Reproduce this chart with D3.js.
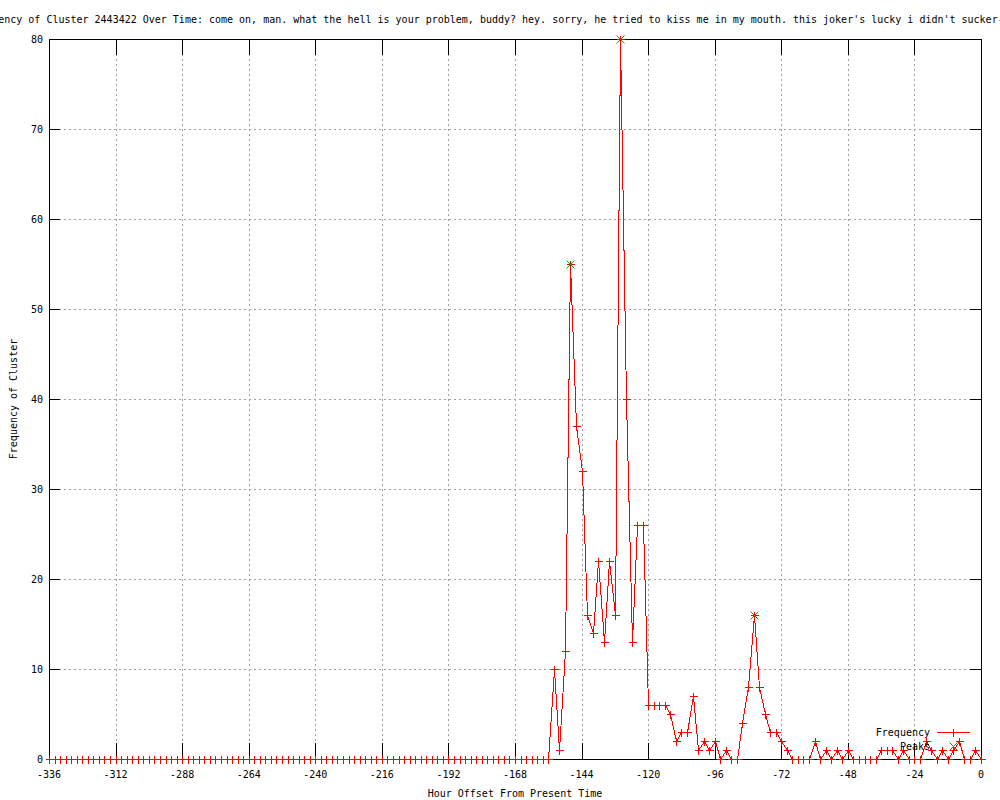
<!DOCTYPE html>
<html>
<head>
<meta charset="utf-8">
<script src="https://cdn.jsdelivr.net/npm/d3@7"></script>
<style>
  body { margin: 0; background: #fff; }
  text { font-family: "DejaVu Sans Mono", monospace; font-size: 10px; fill: #000; }
</style>
</head>
<body>
<div id="chart"></div>
<script>
const titleText = "Frequency of Cluster 2443422 Over Time: come on, man. what the hell is your problem, buddy? hey. sorry, he tried to kiss me in my mouth. this joker's lucky i didn't sucker-punch him.";

// hour offsets, one point every 2 hours
const hours = d3.range(-336, 1, 2);
const counts = [
  0,0,0,0,0,0,0,0,0,0, 0,0,0,0,0,0,0,0,0,0,
  0,0,0,0,0,0,0,0,0,0, 0,0,0,0,0,0,0,0,0,0,
  0,0,0,0,0,0,0,0,0,0, 0,0,0,0,0,0,0,0,0,0,
  0,0,0,0,0,0,0,0,0,0, 0,0,0,0,0,0,0,0,0,0,
  0,0,0,0,0,0,0,0,0,0, 0,
  // -154 ... 0
  10,1,12,55,37,32,16,14,22,13,22,16,80,40,13,26,26,
  6,6,6,6,5,2,3,3,7,1,2,1,2,0,1,0,0,
  4,8,16,8,5,3,3,2,1,0,0,0,0,2,0,1,0,1,0,1,
  0,0,0,0,0,1,1,1,0,1,0,0,0,2,1,0,1,0,1,2,0,0,1,0
];
const peakHours = [-148, -130, -82];
const peakCounts = [55, 80, 16];

const xTicks = d3.range(-336, 1, 24);
const yTicks = d3.range(0, 81, 10);

const width = 1000, height = 800;
const pLeft = 49, pRight = 981, pTop = 39, pBottom = 759;

const svg = d3.select('#chart').append('svg')
    .attr('width', width)
    .attr('height', height);

const x = d3.scaleLinear().domain([-336, 0]).range([pLeft, pRight]);
const y = d3.scaleLinear().domain([0, 80]).range([pBottom, pTop]);
const px = v => Math.round(v) + 0.5;

// grid
const grid = svg.append('g')
    .attr('stroke', '#a0a0a0')
    .attr('stroke-dasharray', '2,3')
    .attr('shape-rendering', 'crispEdges');
grid.selectAll('.gx').data(xTicks.slice(1, -1)).enter().append('line')
    .attr('x1', d => px(x(d))).attr('x2', d => px(x(d)))
    .attr('y1', pTop).attr('y2', pBottom);
grid.selectAll('.gy').data(yTicks.slice(1, -1)).enter().append('line')
    .attr('y1', d => px(y(d))).attr('y2', d => px(y(d)))
    .attr('x1', pLeft).attr('x2', pRight);

// ticks (inward, mirrored)
const ticks = svg.append('g').attr('stroke', '#000').attr('shape-rendering', 'crispEdges');
ticks.selectAll('.tx').data(xTicks).enter().append('line')
    .attr('x1', d => px(x(d))).attr('x2', d => px(x(d)))
    .attr('y1', pBottom).attr('y2', pBottom - 16);
ticks.selectAll('.txt').data(xTicks).enter().append('line')
    .attr('x1', d => px(x(d))).attr('x2', d => px(x(d)))
    .attr('y1', pTop).attr('y2', pTop + 16);
ticks.selectAll('.ty').data(yTicks).enter().append('line')
    .attr('y1', d => px(y(d))).attr('y2', d => px(y(d)))
    .attr('x1', pLeft).attr('x2', pLeft + 11);
ticks.selectAll('.tyr').data(yTicks).enter().append('line')
    .attr('y1', d => px(y(d))).attr('y2', d => px(y(d)))
    .attr('x1', pRight).attr('x2', pRight - 11);

// border
svg.append('rect')
    .attr('x', pLeft + 0.5).attr('y', pTop + 0.5)
    .attr('width', pRight - pLeft).attr('height', pBottom - pTop)
    .attr('fill', 'none').attr('stroke', '#000')
    .attr('shape-rendering', 'crispEdges');

// data line
const pts = hours.map((h, i) => [h, counts[i]]);
const line = d3.line().x(d => px(x(d[0]))).y(d => px(y(d[1])));
svg.append('path')
    .attr('d', line(pts))
    .attr('fill', 'none')
    .attr('stroke', '#ff0000')
    .attr('stroke-width', 1)
    .attr('shape-rendering', 'crispEdges');

// plus markers
const plus = (cx, cy, s) => `M${cx - s},${cy}H${cx + s}M${cx},${cy - s}V${cy + s}`;
svg.append('path')
    .attr('d', pts.map(d => plus(px(x(d[0])), px(y(d[1])), 4)).join(''))
    .attr('stroke', '#ff0000')
    .attr('shape-rendering', 'crispEdges');

// peaks
const cross = (cx, cy, s) => `M${cx - s},${cy - s}L${cx + s},${cy + s}M${cx - s},${cy + s}L${cx + s},${cy - s}`;
svg.append('path')
    .attr('d', peakHours.map((h, i) => cross(px(x(h)), px(y(peakCounts[i])), 4)).join(''))
    .attr('stroke', '#00b000')
    .attr('fill', 'none');

// tick labels
svg.selectAll('.xl').data(xTicks).enter().append('text')
    .attr('x', d => x(d)).attr('y', 778)
    .attr('text-anchor', 'middle')
    .text(d => d);
svg.selectAll('.yl').data(yTicks).enter().append('text')
    .attr('x', 43).attr('y', d => y(d) + 4)
    .attr('text-anchor', 'end')
    .text(d => d);

// titles (the reference title runs off both sides of the image)
svg.append('text')
    .attr('x', (pLeft + pRight) / 2 + 1).attr('y', 23)
    .attr('text-anchor', 'middle')
    .text(titleText);
svg.append('text')
    .attr('x', (pLeft + pRight) / 2).attr('y', 797)
    .attr('text-anchor', 'middle')
    .text('Hour Offset From Present Time');
svg.append('text')
    .attr('transform', 'translate(17,399) rotate(-90)')
    .attr('text-anchor', 'middle')
    .text('Frequency of Cluster');

// legend
svg.append('text').attr('x', 930).attr('y', 736).attr('text-anchor', 'end').text('Frequency');
svg.append('line').attr('x1', 937).attr('x2', 970).attr('y1', 732.5).attr('y2', 732.5)
    .attr('stroke', '#ff0000').attr('shape-rendering', 'crispEdges');
svg.append('path').attr('d', plus(953.5, 732.5, 4)).attr('stroke', '#ff0000')
    .attr('shape-rendering', 'crispEdges');
svg.append('text').attr('x', 930).attr('y', 750).attr('text-anchor', 'end').text('Peaks');
svg.append('path').attr('d', cross(953.5, 746.5, 4)).attr('stroke', '#00b000').attr('fill', 'none');
</script>
</body>
</html>
